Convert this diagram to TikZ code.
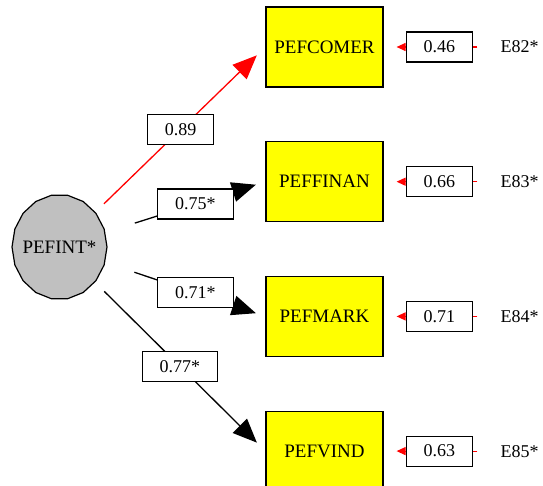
\documentclass[tikz,border=0pt]{standalone}
\usepackage{fontspec}
\setmainfont{Liberation Serif}
\newfontfamily\diagfont{Liberation Serif}
\usetikzlibrary{arrows.meta, positioning, backgrounds}
\definecolor{boxyellow}{RGB}{255,255,0}
\definecolor{factorgray}{RGB}{192,192,192}

\begin{document}
\begin{tikzpicture}[
    x=1pt, y=-1pt,
    node distance=53.5pt,
    var/.style={draw, line width=1.2pt, fill=boxyellow, minimum width=117pt, minimum height=80pt, inner sep=0pt, font=\diagfont\fontsize{19}{22}\selectfont},
    coef/.style={draw=black, text=black, line width=1.2pt, fill=white, inner xsep=17.5pt, inner ysep=0pt, minimum height=30pt, font=\diagfont\fontsize{18}{21}\selectfont},
    err/.style={inner sep=0pt, font=\diagfont\fontsize{18}{21}\selectfont},
    load/.style={-{Triangle[length=24pt, width=20pt]}, line width=1.3pt},
    errarrow/.style={-{Triangle[length=9pt, width=8pt]}, red, line width=1.2pt, shorten <=23pt, shorten >=13pt}
]
\useasboundingbox (0,0) rectangle (543,486);

% factor
\draw[line width=1.2pt, fill=factorgray] plot[samples=19, domain=0:360] ({59.5+47.5*cos(\x)}, {247+52.5*sin(\x)}) -- cycle;
\node[font=\diagfont\fontsize{19}{22}\selectfont] (pefint) at (59.5,247) {PEFINT*};

% indicators
\node[var] (comer) at (324.5,47) {PEFCOMER};
\node[var, below=of comer] (finan) {PEFFINAN};
\node[var, below=of finan] (mark) {PEFMARK};
\node[var, below=of mark] (vind) {PEFVIND};

% residuals
\node[coef, right=22pt of comer] (r82) {0.46};
\node[coef, right=22pt of finan] (r83) {0.66};
\node[coef, right=22pt of mark] (r84) {0.71};
\node[coef, right=22pt of vind] (r85) {0.63};
\node[err, right=27pt of r82] (e82) {E82*};
\node[err, right=27pt of r83] (e83) {E83*};
\node[err, right=27pt of r84] (e84) {E84*};
\node[err, right=27pt of r85] (e85) {E85*};

\begin{scope}[on background layer]
\foreach \e/\v in {e82/comer, e83/finan, e84/mark, e85/vind}
    \draw[errarrow] (\e.west) -- (\v.east);
\end{scope}

% loadings
\draw[load, red, shorten <=62pt, shorten >=12pt] (pefint.center) -- node[coef, pos=0.588] (lcomer) {0.89} (comer.west);
\draw[load, shorten <=79pt, shorten >=10pt] (pefint.center) -- node[coef, pos=0.66] (lfinan) {0.75*} (finan.west);
\draw[load, shorten <=79pt, shorten >=10pt] (pefint.center) -- node[coef, pos=0.66] (lmark) {0.71*} (mark.west);
\draw[load, shorten <=63pt, shorten >=12pt] (pefint.center) -- node[coef, pos=0.585] (lvind) {0.77*} (vind.west);

\end{tikzpicture}
\end{document}
